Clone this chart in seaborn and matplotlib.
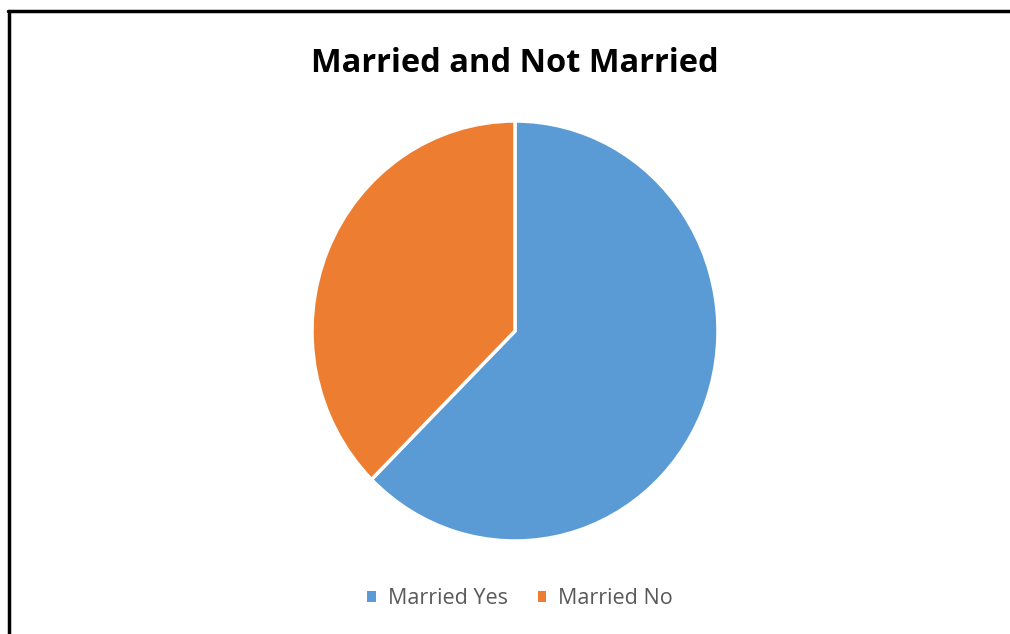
import matplotlib
matplotlib.use("Agg")
import matplotlib.pyplot as plt
import seaborn as sns
from matplotlib.lines import Line2D
from matplotlib.patches import Patch

# chart data
labels = ["Married Yes", "Married No"]
counts = [5, 3]
colors = ["#5B9BD5", "#ED7D31"]

sns.set_theme(style="white")
plt.rcParams['font.family'] = ['Open Sans', 'DejaVu Sans']

fig = plt.figure(figsize=(10.1, 6.34), dpi=100)

# pie axes placed so the pie sits where it is in the original (slightly taller than wide there)
ax = fig.add_axes([312 / 1010, 93 / 634, 406 / 1010, 420 / 634])
ax.pie(counts, colors=colors, startangle=90, counterclock=False,
       wedgeprops=dict(edgecolor="white", linewidth=2.5))
ax.set_xlim(-1, 1)
ax.set_ylim(-1, 1)
ax.set_aspect("auto")
ax.axis("off")

fig.text(515 / 1010, 1 - 63 / 634, "Married and Not Married",
         ha="center", va="center", fontsize=23.5, fontweight="bold", color="black")

handles = [Patch(facecolor=c, edgecolor="none") for c in colors]
fig.legend(handles, labels, loc="center", bbox_to_anchor=(520 / 1010, 1 - 599 / 634),
           ncol=2, frameon=False, fontsize=15.5, labelcolor="#595959",
           handlelength=0.4, handleheight=0.4, handletextpad=0.55, columnspacing=1.4)

# frame lines on top and left like the screenshot crop
fig.add_artist(Line2D([8 / 1010, 1], [1 - 11 / 634, 1 - 11 / 634], color="black", linewidth=2.5))
fig.add_artist(Line2D([9 / 1010, 9 / 1010], [0, 1 - 11 / 634], color="black", linewidth=2.5))

fig.savefig("out.png", dpi=100)
